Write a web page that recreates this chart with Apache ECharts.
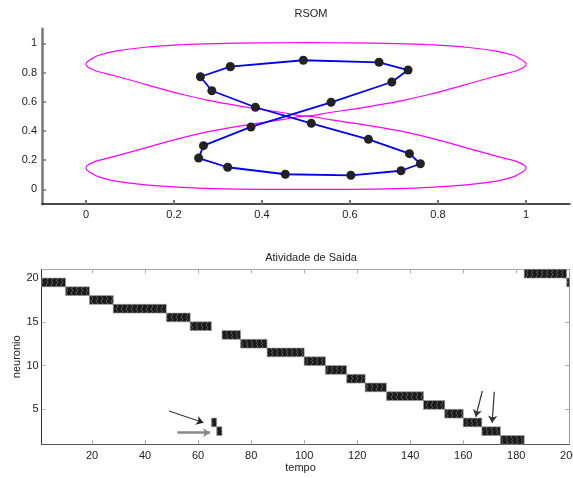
<!DOCTYPE html>
<html><head><meta charset="utf-8">
<script src="https://cdn.jsdelivr.net/npm/echarts@6/dist/echarts.min.js"></script>
<style>html,body{margin:0;padding:0;background:#fff}#c{width:573px;height:478px}</style>
</head><body><div id="c"></div>
<script>
// ---------- RSOM (top) ----------
const rsomX = [0.328, 0.494, 0.666, 0.732, 0.695, 0.557, 0.375, 0.267, 0.256, 0.322, 0.453, 0.602, 0.716, 0.760, 0.735, 0.642, 0.512, 0.385, 0.286, 0.260];
const rsomY = [0.840, 0.884, 0.870, 0.817, 0.735, 0.596, 0.427, 0.299, 0.214, 0.151, 0.103, 0.096, 0.127, 0.175, 0.244, 0.342, 0.452, 0.562, 0.675, 0.771];

const ellTopX = [0.000, 0.002, 0.006, 0.014, 0.029, 0.067, 0.143, 0.218, 0.293, 0.400, 0.500, 0.600, 0.707, 0.782, 0.857, 0.933, 0.971, 0.986, 0.994, 0.998, 1.000,
                 0.998, 0.994, 0.986, 0.971, 0.933, 0.857, 0.782, 0.707, 0.630, 0.554, 0.500, 0.446, 0.370, 0.293, 0.218, 0.143, 0.067, 0.029, 0.014, 0.006, 0.002, 0.000];
const ellTopY = [0.856, 0.870, 0.881, 0.895, 0.918, 0.947, 0.975, 0.990, 0.998, 1.003, 1.004, 1.003, 0.998, 0.990, 0.975, 0.947, 0.918, 0.895, 0.881, 0.870, 0.856,
                 0.843, 0.834, 0.822, 0.805, 0.776, 0.712, 0.651, 0.600, 0.560, 0.526, 0.502, 0.526, 0.560, 0.600, 0.651, 0.712, 0.776, 0.805, 0.822, 0.834, 0.843, 0.856];
const ellBotX = [0.000, 0.002, 0.006, 0.014, 0.029, 0.067, 0.143, 0.218, 0.293, 0.400, 0.500, 0.600, 0.707, 0.782, 0.857, 0.933, 0.971, 0.986, 0.994, 0.998, 1.000,
                 0.998, 0.994, 0.986, 0.971, 0.933, 0.857, 0.782, 0.707, 0.630, 0.554, 0.500, 0.446, 0.370, 0.293, 0.218, 0.143, 0.067, 0.029, 0.014, 0.006, 0.002, 0.000];
const ellBotY = [0.147, 0.133, 0.122, 0.108, 0.085, 0.056, 0.028, 0.013, 0.005, 0.000, -0.001, 0.000, 0.005, 0.013, 0.028, 0.056, 0.085, 0.108, 0.122, 0.133, 0.147,
                 0.160, 0.169, 0.181, 0.198, 0.227, 0.291, 0.352, 0.403, 0.443, 0.477, 0.501, 0.477, 0.443, 0.403, 0.352, 0.291, 0.227, 0.198, 0.181, 0.169, 0.160, 0.147];

const topXTicks = [0, 0.2, 0.4, 0.6, 0.8, 1];
const topYTicks = [0, 0.2, 0.4, 0.6, 0.8, 1];

// ---------- Atividade de Saida (bottom) ----------
const actStart  = [1, 10, 19, 28, 48, 57, 65, 67, 69, 76, 86, 100, 108, 116, 123, 131, 145, 153, 160, 167, 174, 183, 199];
const actEnd    = [10, 19, 28, 48, 57, 65, 67, 69, 76, 86, 100, 108, 116, 123, 131, 145, 153, 160, 167, 174, 183, 199, 200];
const actNeuron = [19, 18, 17, 16, 15, 14, 3, 2, 13, 12, 11, 10, 9, 8, 7, 6, 5, 4, 3, 2, 1, 20, 19];

const arrowFromT = [49.0, 52.2, 167.2, 171.7];
const arrowFromN = [4.81, 2.33, 7.09, 7.01];
const arrowToT   = [62.0, 64.5, 164.7, 170.9];
const arrowToN   = [3.47, 2.33, 4.15, 3.47];

const botXTicks = [20, 40, 60, 80, 100, 120, 140, 160, 180, 200];
const botYTicks = [5, 10, 15, 20];

// ---------- build ----------
const FONT = 'Liberation Sans, Arial, sans-serif';
const pts = rsomX.map((x, i) => [x, rsomY[i]]);
const ring = pts.concat([pts[0]]);
const eTop = ellTopX.map((x, i) => [x, ellTopY[i]]);
const eBot = ellBotX.map((x, i) => [x, ellBotY[i]]);
const bars = actStart.map((s, i) => [s, actEnd[i], actNeuron[i]]);
const arrowStyles = [
  {color: '#222', width: 1},
  {color: '#888', width: 2.5},
  {color: '#333', width: 1.2},
  {color: '#333', width: 1.2}
];
const arrows = arrowFromT.map((t, i) => ({
  coords: [[t, arrowFromN[i]], [arrowToT[i], arrowToN[i]]],
  lineStyle: arrowStyles[i]
}));

// texture for activity bars
const pc = document.createElement('canvas');
pc.width = 5; pc.height = 8;
const g = pc.getContext('2d');
g.fillStyle = '#1b1b1b'; g.fillRect(0, 0, 5, 8);
g.strokeStyle = '#5a5a5a'; g.lineWidth = 1;
g.beginPath(); g.moveTo(1, 0); g.lineTo(3, 2); g.lineTo(1, 5); g.lineTo(3, 8); g.stroke();
const barFill = {image: pc, repeat: 'repeat'};

const chart = echarts.init(document.getElementById('c'), null, {renderer: 'canvas'});
chart.setOption({
  animation: false,
  backgroundColor: '#fff',
  textStyle: {fontFamily: FONT},
  title: [
    {text: 'RSOM', left: 306, top: 3, textAlign: 'center',
     textStyle: {fontSize: 11, fontWeight: 'normal', color: '#222', fontFamily: FONT}},
    {text: 'Atividade de Saida', left: 306, top: 247, textAlign: 'center',
     textStyle: {fontSize: 11, fontWeight: 'normal', color: '#222', fontFamily: FONT}}
  ],
  grid: [
    {left: 42, right: 3, top: 28.7, height: 175.2, outerBoundsMode: 'none', containLabel: false},
    {left: 41.7, right: 3.7, top: 269.3, height: 175, outerBoundsMode: 'none', containLabel: false}
  ],
  xAxis: [
    {type: 'value', gridIndex: 0, min: -0.1, max: 1.1,
     axisLine: {show: true, onZero: false, lineStyle: {color: '#111', width: 1.5}},
     axisTick: {show: true, inside: true, length: 4, customValues: topXTicks, lineStyle: {color: '#777', width: 2}},
     axisLabel: {customValues: topXTicks, color: '#222', fontSize: 11, margin: 6, fontFamily: FONT},
     splitLine: {show: false}},
    {type: 'value', gridIndex: 1, min: 1, max: 200, position: 'bottom',
     name: 'tempo', nameLocation: 'middle', nameGap: 18, nameMoveOverlap: false,
     nameTextStyle: {color: '#222', fontSize: 11, fontFamily: FONT, padding: [0, 10, 0, 0]},
     axisLine: {show: true, onZero: false, lineStyle: {color: '#555', width: 1}},
     axisTick: {show: true, inside: true, length: 4, customValues: botXTicks, lineStyle: {color: '#aaa', width: 1}},
     axisLabel: {customValues: botXTicks, color: '#222', fontSize: 11, margin: 6, fontFamily: FONT},
     splitLine: {show: false}},
    {type: 'value', gridIndex: 1, min: 1, max: 200, position: 'top',
     axisLine: {show: true, onZero: false, lineStyle: {color: '#aaa', width: 1}},
     axisTick: {show: true, inside: true, length: 4, customValues: botXTicks, lineStyle: {color: '#aaa', width: 1}},
     axisLabel: {show: false}, splitLine: {show: false}}
  ],
  yAxis: [
    {type: 'value', gridIndex: 0, min: -0.1, max: 1.1,
     axisLine: {show: true, onZero: false, lineStyle: {color: '#777', width: 2.5}},
     axisTick: {show: true, inside: true, length: 4, customValues: topYTicks, lineStyle: {color: '#777', width: 1.5}},
     axisLabel: {customValues: topYTicks, color: '#222', fontSize: 11, margin: 5, fontFamily: FONT},
     splitLine: {show: false}},
    {type: 'value', gridIndex: 1, min: 1, max: 21, position: 'left',
     name: 'neuronio', nameLocation: 'middle', nameGap: 19, nameRotate: 90, nameMoveOverlap: false,
     nameTextStyle: {color: '#222', fontSize: 11, fontFamily: FONT},
     axisLine: {show: true, onZero: false, lineStyle: {color: '#333', width: 1}},
     axisTick: {show: true, inside: true, length: 4, customValues: botYTicks, lineStyle: {color: '#bbb', width: 1}},
     axisLabel: {customValues: botYTicks, color: '#222', fontSize: 11, margin: 3, fontFamily: FONT},
     splitLine: {show: false}},
    {type: 'value', gridIndex: 1, min: 1, max: 21, position: 'right',
     axisLine: {show: true, onZero: false, lineStyle: {color: '#999', width: 1}},
     axisTick: {show: true, inside: true, length: 4, customValues: botYTicks, lineStyle: {color: '#aaa', width: 1}},
     axisLabel: {show: false}, splitLine: {show: false}}
  ],
  series: [
    {type: 'line', xAxisIndex: 0, yAxisIndex: 0, data: eTop, showSymbol: false, smooth: 0.4,
     lineStyle: {color: '#ff00ff', width: 1.2}, z: 1, silent: true},
    {type: 'line', xAxisIndex: 0, yAxisIndex: 0, data: eBot, showSymbol: false, smooth: 0.4,
     lineStyle: {color: '#ff00ff', width: 1.2}, z: 1, silent: true},
    {type: 'line', xAxisIndex: 0, yAxisIndex: 0, data: ring, symbol: 'circle', symbolSize: 9, showSymbol: true,
     lineStyle: {color: '#0000ee', width: 1.8}, itemStyle: {color: '#222', borderWidth: 0}, z: 3, silent: true},
    {type: 'custom', xAxisIndex: 1, yAxisIndex: 1, data: bars, silent: true, z: 2,
     renderItem: function (params, api) {
       const a = api.coord([api.value(0), api.value(2) + 1]);
       const b = api.coord([api.value(1), api.value(2)]);
       return {type: 'rect', shape: {x: a[0], y: a[1], width: b[0] - a[0], height: b[1] - a[1]},
               style: {fill: barFill, stroke: '#999', lineWidth: 0.6}};
     }},
    {type: 'lines', coordinateSystem: 'cartesian2d', xAxisIndex: 1, yAxisIndex: 1,
     symbol: ['none', 'arrow'], symbolSize: 7, data: arrows, silent: true, z: 4,
     lineStyle: {opacity: 1, curveness: 0}}
  ]
});
</script>
</body></html>
